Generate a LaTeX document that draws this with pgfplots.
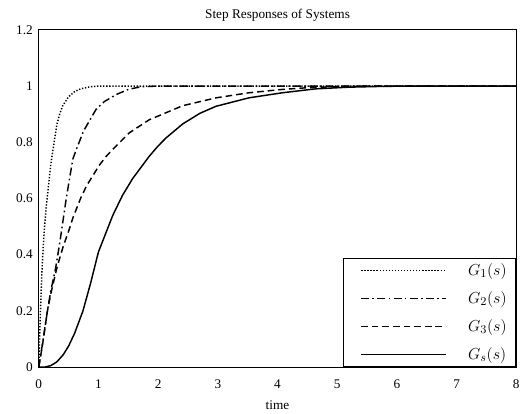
\documentclass[border=0pt]{standalone}
\usepackage{fontspec}
\setmainfont{Liberation Serif}
\usepackage{pgfplots}
\pgfplotsset{compat=1.18}

\begin{document}
\begin{tikzpicture}
\begin{axis}[
  scale only axis,
  width=360pt, height=254.25pt,
  xmin=0, xmax=8, ymin=0, ymax=1.2,
  xtick={0,1,...,8},
  ytick={0,0.2,0.4,0.6,0.8,1,1.2},
  yticklabels={0,0.2,0.4,0.6,0.8,1,1.2},
  /pgf/number format/assume math mode=true,
  major tick length=0pt,
  axis line style={line width=0.6pt},
  tick label style={font=\fontsize{10}{12}\selectfont},
  xticklabel style={yshift=-6pt},
  yticklabel style={xshift=-1pt},
  title={Step Responses of Systems},
  title style={font=\fontsize{10}{12}\selectfont, yshift=-3pt},
  xlabel={time},
  xlabel style={font=\fontsize{10}{12}\selectfont, yshift=-2pt},
  legend style={at={(1,0)}, anchor=south east, draw=black, line width=0.6pt,
    inner xsep=0pt, inner ysep=4pt, row sep=10.6pt,
    nodes={inner sep=0pt, font=\fontsize{13}{15}\selectfont},
    column sep=0pt},
  legend cell align=left,
  legend image code/.code={\path (0pt,0pt); \draw[#1] (13pt,0pt) -- (77pt,0pt); \path (93pt,0pt);},
  every axis plot/.append style={line width=1.1pt, black},
]
\addplot[dash pattern=on 1pt off 1.3pt] coordinates {
(0,0) (0.02,0.15) (0.05,0.33) (0.08,0.45) (0.12,0.56) (0.16,0.64) (0.2,0.72)
(0.25,0.79) (0.3,0.86) (0.35,0.9) (0.4,0.93) (0.5,0.962) (0.6,0.98) (0.7,0.99)
(0.85,0.997) (1.0,1.0) (8,1.0)};
\addlegendentry{$G_1(s)$\kern7pt}
\addplot[dash pattern=on 6pt off 2.5pt on 1.2pt off 2.5pt] coordinates {
(0,0) (0.06,0.08) (0.145,0.2) (0.2,0.27) (0.28,0.35) (0.35,0.44) (0.46,0.6)
(0.57,0.74) (0.63,0.775) (0.75,0.84) (0.96,0.917) (1.1,0.945) (1.3,0.97)
(1.5,0.988) (1.7,0.997) (2.0,1.0) (8,1.0)};
\addlegendentry{$G_2(s)$\kern7pt}
\addplot[dash pattern=on 5pt off 3pt] coordinates {
(0,0) (0.07,0.09) (0.145,0.2) (0.2,0.26) (0.3,0.35) (0.34,0.38) (0.41,0.43)
(0.51,0.49) (0.57,0.53) (0.7,0.60) (0.8,0.645) (1.02,0.72) (1.13,0.75)
(1.24,0.775) (1.52,0.834) (1.85,0.88) (2.02,0.895) (2.41,0.93) (2.97,0.958)
(3.52,0.976) (4.08,0.988) (4.5,0.994) (5,0.998) (5.5,1.0) (8,1.0)};
\addlegendentry{$G_3(s)$\kern7pt}
\addplot[solid] coordinates {
(0,0) (0.1,0) (0.2,0.005) (0.3,0.018) (0.41,0.044) (0.5,0.075) (0.6,0.12)
(0.74,0.2) (0.87,0.3) (1.0,0.41) (1.24,0.54) (1.4,0.61) (1.57,0.67)
(1.85,0.75) (2.0,0.787) (2.13,0.815) (2.41,0.865) (2.7,0.903) (2.97,0.928)
(3.52,0.958) (4.08,0.976) (4.64,0.99) (5.2,0.996) (5.8,0.999) (6.5,1.0) (8,1.0)};
\addlegendentry{$G_s(s)$\kern7pt}
\end{axis}
\path ([shift={(-29.25pt,-28.5pt)}]current axis.south west)
  rectangle ([shift={(3.75pt,22.5pt)}]current axis.north east);
\end{tikzpicture}
\end{document}
